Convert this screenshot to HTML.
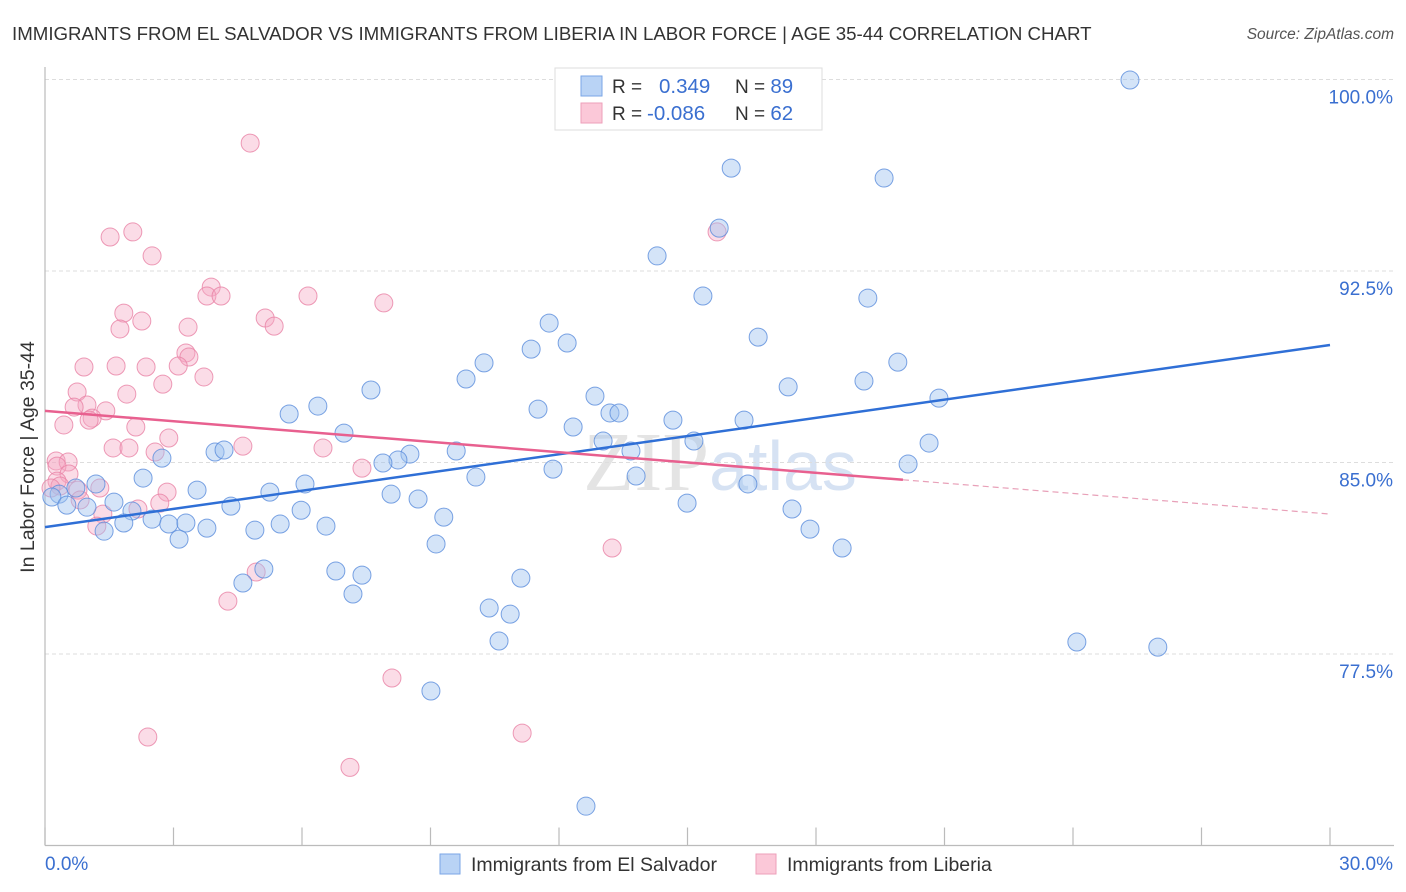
<!DOCTYPE html>
<html><head><meta charset="utf-8">
<style>
body{margin:0;background:#fff;font-family:"Liberation Sans",sans-serif;}
#wrap{position:relative;width:1406px;height:892px;overflow:hidden;}
svg{position:absolute;left:0;top:0;}
</style></head>
<body>
<div id="wrap">
<svg id="chart" width="1406" height="892">
  <text x="12" y="40" font-size="18.7" fill="#333">IMMIGRANTS FROM EL SALVADOR VS IMMIGRANTS FROM LIBERIA IN LABOR FORCE | AGE 35-44 CORRELATION CHART</text>
  <text x="1394" y="39" font-size="15.5" fill="#555" font-style="italic" text-anchor="end">Source: ZipAtlas.com</text>
  <text x="720" y="490" font-size="84" fill="#e4e4e4" text-anchor="middle" font-family="Liberation Serif, serif">ZIP<tspan fill="#d6e2f3" font-family="Liberation Sans, sans-serif" font-size="70">atlas</tspan></text>
  <g id="grid"></g>
  <g id="axes"></g>
  <g id="pts"></g>
  <g id="trends"></g>
  <text transform="translate(34,457) rotate(-90)" font-size="19.5" fill="#333" text-anchor="middle">In Labor Force | Age 35-44</text>
  <g>
    <rect x="555" y="68" width="267" height="62" fill="#fff" stroke="#ddd" stroke-width="1"/>
    <rect x="581" y="76" width="21" height="20" fill="#b9d3f5" stroke="#7aa6e6"/>
    <rect x="581" y="103" width="21" height="20" fill="#fbc8d8" stroke="#ee9fba"/>
    <text x="612" y="93" font-size="19" fill="#333">R = <tspan x="659" fill="#3a6fd0" font-size="20.5">0.349</tspan><tspan x="735" fill="#333">N = </tspan><tspan fill="#3a6fd0" font-size="20.5">89</tspan></text>
    <text x="612" y="120" font-size="19" fill="#333">R = <tspan x="647" fill="#3a6fd0" font-size="20.5">-0.086</tspan><tspan x="735" fill="#333">N = </tspan><tspan fill="#3a6fd0" font-size="20.5">62</tspan></text>
  </g>
  <g>
    <rect x="440" y="854" width="20" height="20" fill="#b9d3f5" stroke="#7aa6e6"/>
    <text x="471" y="871" font-size="19.5" fill="#333">Immigrants from El Salvador</text>
    <rect x="756" y="854" width="20" height="20" fill="#fbc8d8" stroke="#ee9fba"/>
    <text x="787" y="871" font-size="19.5" fill="#333">Immigrants from Liberia</text>
  </g>
</svg>
</div>
<script>
const yTicks = [100, 92.5, 85, 77.5];
const yTickLabels = ["100.0%", "92.5%", "85.0%", "77.5%"];
const xTickLabels = ["0.0%", "30.0%"];
const blueX = [25.33,16.02,19.59,15.74,14.29,15.36,19.21,11.77,16.65,12.19,11.35,10.25,19.91,9.83,19.12,17.35,7.61,12.84,20.87,6.37,11.51,5.70,13.19,13.40,14.66,16.32,12.33,6.98,15.15,13.03,20.64,9.60,13.68,3.97,4.18,2.73,8.52,8.24,7.89,20.15,11.86,10.06,13.80,2.29,1.19,16.41,6.07,0.72,3.55,5.25,8.08,0.33,0.16,8.71,1.61,0.98,14.99,0.51,4.34,5.98,2.03,17.44,9.31,1.84,2.50,2.89,3.29,6.56,5.49,3.78,4.90,1.38,17.86,3.13,9.13,18.61,5.11,4.62,6.79,7.40,11.11,7.19,10.37,10.86,24.09,10.60,25.98,9.01,12.63];
const blueY = [99.98,96.53,96.14,94.18,93.09,91.52,91.44,90.46,89.91,89.68,89.44,88.90,88.93,88.27,88.19,87.96,87.84,87.60,87.52,87.21,87.09,86.90,86.94,86.94,86.66,86.66,86.39,86.15,85.84,85.84,85.76,85.45,85.45,85.41,85.49,85.17,85.33,85.10,84.98,84.94,84.74,84.43,84.47,84.39,84.16,84.16,84.16,84.00,83.92,83.84,83.76,83.76,83.65,83.57,83.45,83.25,83.41,83.33,83.29,83.13,83.10,83.18,82.86,82.63,82.78,82.59,82.63,82.51,82.59,82.43,82.35,82.31,82.39,82.00,81.81,81.65,80.83,80.28,80.75,80.59,80.47,79.85,79.30,79.06,77.97,78.01,77.77,76.05,71.54];
const pinkX = [4.79,2.05,1.52,2.50,15.69,3.88,3.78,4.11,6.14,7.91,1.84,5.14,2.26,5.35,1.75,3.34,3.29,3.36,3.11,0.91,1.66,2.36,3.71,2.75,0.75,1.91,0.98,0.68,1.42,1.10,1.03,0.44,2.12,2.89,4.62,1.59,1.96,2.57,6.49,0.26,0.54,0.28,0.56,7.40,0.28,0.35,2.85,1.28,0.77,0.14,2.68,2.17,1.35,1.21,13.24,4.93,4.27,8.10,2.40,11.14,7.12,0.82];
const pinkY = [97.51,94.03,93.83,93.09,94.03,91.87,91.52,91.52,91.52,91.25,90.85,90.66,90.54,90.34,90.23,90.30,89.29,89.13,88.78,88.74,88.78,88.74,88.35,88.07,87.76,87.68,87.25,87.17,87.02,86.74,86.66,86.47,86.39,85.96,85.64,85.57,85.57,85.41,85.57,85.06,85.02,84.86,84.55,84.78,84.27,84.08,83.84,84.00,83.92,84.00,83.41,83.18,82.98,82.51,81.65,80.71,79.57,76.56,74.25,74.40,73.06,83.53];
const blueTrend = [82.47, 89.60];
const pinkTrend = [87.02, 82.98];
const pinkSolidEnd = 20.03;

const X0=45, X1=1330, Y0=79.5, Y1=845.5;
const xs = v => X0 + (v-0)/(30-0)*(X1-X0);
const ys = v => Y1 - (v-70)/(100-70)*(Y1-Y0);
const NS="http://www.w3.org/2000/svg";
function mk(tag, attrs, parent){const e=document.createElementNS(NS,tag);for(const k in attrs)e.setAttribute(k,attrs[k]);parent.appendChild(e);return e;}

const grid=document.getElementById('grid');
yTicks.forEach((t,i)=>{
  const l=mk('line',{x1:X0,x2:1394,y1:ys(t),y2:ys(t),stroke:'#ddd','stroke-dasharray':'4,3'},grid);
  
  
  const tx=mk('text',{x:1393,y:ys(t)+24,'font-size':19,fill:'#3a6fd0','text-anchor':'end'},grid);
  tx.textContent=yTickLabels[i];
  
  
});
const axes=document.getElementById('axes');
mk('line',{x1:X0,x2:X0,y1:67,y2:Y1,stroke:'#bbb','stroke-width':1.2},axes);
mk('line',{x1:X0,x2:1394,y1:Y1,y2:Y1,stroke:'#bbb','stroke-width':1.2},axes);
for(let k=0;k<=10;k++){
  const t=mk('line',{x1:xs(k*3),x2:xs(k*3),y1:Y1-18,y2:Y1,stroke:'#bbb','stroke-width':1.2},axes);
  
  
}
const xl0=mk('text',{x:45,y:870,'font-size':19,fill:'#3a6fd0'},axes);xl0.textContent=xTickLabels[0];


const xl1=mk('text',{x:1393,y:870,'font-size':19,fill:'#3a6fd0','text-anchor':'end'},axes);xl1.textContent=xTickLabels[1];



const pts=document.getElementById('pts');
pinkX.forEach((v,i)=>{
  const c=mk('circle',{cx:xs(v),cy:ys(pinkY[i]),r:9,fill:'rgba(246,168,196,0.4)',stroke:'rgba(232,130,165,0.8)','stroke-width':1},pts);
  
  
});
blueX.forEach((v,i)=>{
  const c=mk('circle',{cx:xs(v),cy:ys(blueY[i]),r:9,fill:'rgba(160,195,240,0.45)',stroke:'rgba(90,140,220,0.8)','stroke-width':1},pts);
  
  
});
const tr=document.getElementById('trends');
const bl=mk('line',{x1:xs(0),y1:ys(blueTrend[0]),x2:xs(30),y2:ys(blueTrend[1]),stroke:'#2f6fd6','stroke-width':2.5},tr);


const pAt=x=>pinkTrend[0]+(pinkTrend[1]-pinkTrend[0])*x/30;
const pl=mk('line',{x1:xs(0),y1:ys(pinkTrend[0]),x2:xs(pinkSolidEnd),y2:ys(pAt(pinkSolidEnd)),stroke:'#e8608f','stroke-width':2.5},tr);


const pd=mk('line',{x1:xs(pinkSolidEnd),y1:ys(pAt(pinkSolidEnd)),x2:xs(30),y2:ys(pinkTrend[1]),stroke:'#e8a0b8','stroke-width':1.2,'stroke-dasharray':'6,4'},tr);


</script>
</body></html>
